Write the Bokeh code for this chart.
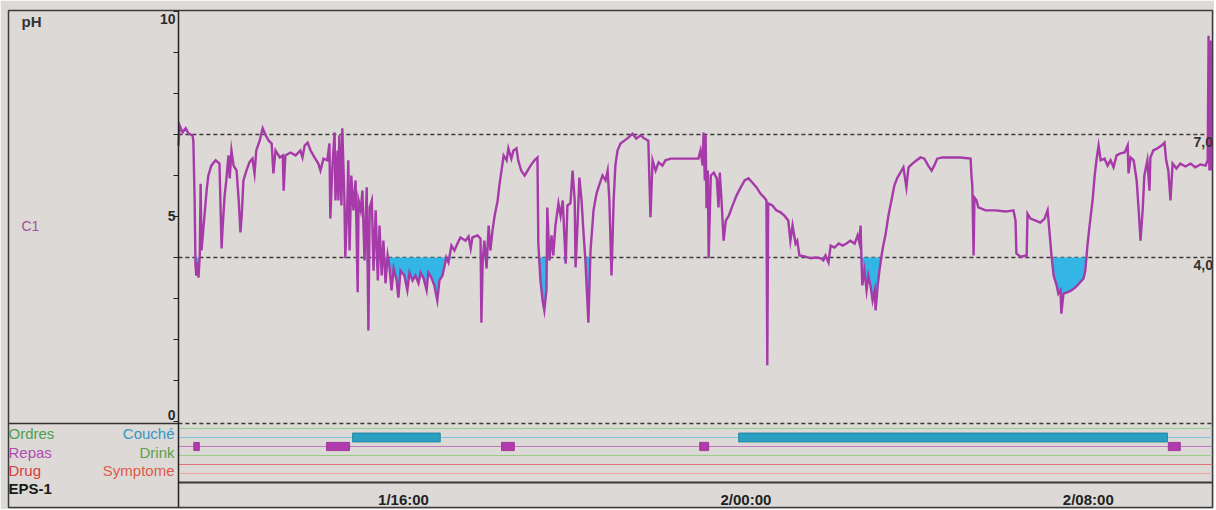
import numpy as np
from bokeh.plotting import figure
from bokeh.models import LinearAxis, FixedTicker, Range1d
from bokeh.core.properties import value
from bokeh.embed import file_html
from bokeh.resources import INLINE

# ---------------- data ----------------
# time in hours counted from midnight of day 1 (24 = 2/00:00)
time_h = [
    10.74, 10.77, 10.84, 10.91, 10.98, 11.07, 11.09, 11.12, 11.14, 11.16,
    11.19, 11.21, 11.24, 11.26, 11.28, 11.30, 11.35, 11.40, 11.44, 11.51,
    11.61, 11.70, 11.75, 11.77, 11.82, 11.86, 11.91, 11.94, 11.98, 12.03,
    12.10, 12.15, 12.19, 12.22, 12.26, 12.33, 12.40, 12.47, 12.52, 12.56,
    12.64, 12.71, 12.78, 12.85, 12.92, 12.96, 13.01, 13.11, 13.18, 13.20,
    13.24, 13.36, 13.48, 13.59, 13.64, 13.69, 13.76, 13.83, 13.92, 14.01,
    14.06, 14.13, 14.22, 14.27, 14.29, 14.34, 14.39, 14.41, 14.46, 14.48,
    14.50, 14.55, 14.57, 14.62, 14.64, 14.69, 14.71, 14.74, 14.78, 14.83,
    14.88, 14.93, 14.95, 15.00, 15.04, 15.09, 15.14, 15.18, 15.21, 15.26,
    15.30, 15.35, 15.40, 15.44, 15.49, 15.53, 15.58, 15.63, 15.67, 15.72,
    15.77, 15.84, 15.88, 15.93, 16.02, 16.09, 16.14, 16.21, 16.28, 16.35,
    16.40, 16.47, 16.54, 16.58, 16.65, 16.72, 16.79, 16.84, 16.91, 16.96,
    17.00, 17.05, 17.12, 17.19, 17.26, 17.33, 17.45, 17.52, 17.57, 17.61,
    17.73, 17.80, 17.82, 17.85, 17.89, 17.94, 17.99, 18.03, 18.08, 18.13,
    18.20, 18.24, 18.29, 18.34, 18.41, 18.45, 18.52, 18.57, 18.64, 18.68,
    18.75, 18.83, 18.90, 18.97, 19.06, 19.13, 19.15, 19.20, 19.25, 19.29,
    19.34, 19.36, 19.41, 19.46, 19.50, 19.55, 19.62, 19.67, 19.72, 19.79,
    19.83, 19.90, 19.95, 20.00, 20.02, 20.07, 20.11, 20.16, 20.21, 20.25,
    20.32, 20.37, 20.44, 20.51, 20.57, 20.65, 20.72, 20.77, 20.81, 20.86,
    20.91, 20.95, 21.00, 21.07, 21.16, 21.26, 21.35, 21.44, 21.54, 21.63,
    21.72, 21.77, 21.82, 21.89, 21.96, 22.05, 22.12, 22.24, 22.47, 22.71,
    22.89, 22.94, 22.99, 23.01, 23.04, 23.06, 23.08, 23.11, 23.13, 23.18,
    23.25, 23.32, 23.36, 23.39, 23.43, 23.48, 23.53, 23.60, 23.69, 23.78,
    23.88, 23.97, 24.06, 24.15, 24.25, 24.34, 24.43, 24.48, 24.50, 24.52,
    24.62, 24.71, 24.81, 24.90, 24.99, 25.04, 25.09, 25.16, 25.20, 25.25,
    25.39, 25.51, 25.63, 25.75, 25.81, 25.86, 25.93, 25.98, 26.07, 26.17,
    26.26, 26.35, 26.44, 26.54, 26.61, 26.65, 26.68, 26.70, 26.72, 26.77,
    26.82, 26.86, 26.91, 26.96, 27.01, 27.03, 27.08, 27.12, 27.17, 27.21,
    27.26, 27.33, 27.40, 27.47, 27.54, 27.61, 27.68, 27.75, 27.80, 27.89,
    27.99, 28.08, 28.17, 28.26, 28.34, 28.40, 28.47, 28.59, 28.78, 29.01,
    29.25, 29.27, 29.29, 29.32, 29.34, 29.39, 29.43, 29.60, 29.83, 30.07,
    30.25, 30.30, 30.32, 30.41, 30.56, 30.58, 30.65, 30.77, 30.88, 30.98,
    31.05, 31.09, 31.14, 31.19, 31.26, 31.30, 31.35, 31.37, 31.42, 31.51,
    31.61, 31.70, 31.79, 31.89, 31.93, 31.98, 32.03, 32.10, 32.15, 32.19,
    32.24, 32.29, 32.38, 32.45, 32.52, 32.59, 32.66, 32.75, 32.85, 32.92,
    32.94, 32.99, 33.06, 33.13, 33.17, 33.22, 33.27, 33.31, 33.38, 33.43,
    33.45, 33.52, 33.61, 33.71, 33.78, 33.82, 33.87, 33.92, 33.97, 34.06,
    34.15, 34.27, 34.39, 34.50, 34.62, 34.74, 34.79, 34.81, 34.83, 34.86, 34.88,
]
ph_values = [
    6.73, 7.22, 7.05, 7.15, 7.02, 6.98, 6.85, 5.39, 3.80, 3.56,
    3.88, 3.51, 4.05, 5.80, 4.17, 4.41, 5.02, 5.63, 6.00, 6.24,
    6.37, 6.29, 4.22, 4.66, 5.51, 5.88, 6.49, 5.93, 6.61, 6.24,
    6.12, 5.39, 4.61, 5.02, 5.88, 6.12, 6.32, 6.41, 6.05, 6.61,
    6.85, 7.15, 6.98, 6.85, 6.78, 6.05, 6.61, 6.44, 6.49, 5.63,
    6.49, 6.56, 6.49, 6.61, 6.44, 6.73, 6.80, 6.61, 6.44, 6.29,
    6.12, 6.41, 6.37, 6.78, 4.95, 6.24, 7.05, 5.39, 6.61, 5.39,
    6.98, 5.27, 7.15, 5.39, 3.98, 5.39, 6.37, 4.17, 6.00, 5.15,
    5.88, 3.15, 5.39, 5.15, 5.63, 3.93, 5.71, 2.22, 5.22, 5.39,
    3.68, 5.15, 3.44, 4.78, 3.56, 4.41, 3.37, 4.05, 3.80, 3.20,
    3.73, 3.44, 3.02, 3.68, 3.56, 3.20, 3.63, 3.44, 3.56, 3.37,
    3.63, 3.49, 3.20, 3.63, 3.51, 3.32, 2.95, 3.44, 3.56, 3.80,
    4.00, 3.88, 4.29, 4.17, 4.34, 4.49, 4.41, 4.51, 4.22, 4.49,
    4.54, 4.46, 2.41, 3.93, 4.41, 3.73, 4.78, 4.17, 4.66, 5.02,
    5.39, 5.76, 6.12, 6.49, 6.37, 6.66, 6.41, 6.61, 6.66, 6.37,
    6.12, 6.00, 6.12, 6.24, 6.37, 6.44, 4.34, 3.44, 2.95, 2.71,
    3.20, 5.22, 3.93, 4.54, 4.05, 4.78, 5.32, 5.02, 5.39, 3.85,
    5.27, 5.32, 6.12, 5.39, 3.76, 4.90, 5.95, 5.39, 4.54, 3.93,
    2.41, 4.17, 5.15, 5.56, 5.76, 6.00, 5.88, 6.12, 5.39, 3.56,
    5.39, 6.24, 6.61, 6.78, 6.85, 6.93, 7.02, 6.90, 6.98, 6.90,
    6.85, 4.98, 6.37, 6.12, 6.32, 6.24, 6.37, 6.41, 6.41, 6.41,
    6.41, 6.61, 6.24, 7.05, 5.88, 6.98, 5.20, 6.12, 3.98, 6.00,
    6.07, 5.93, 5.22, 6.07, 5.39, 4.41, 4.90, 5.02, 5.27, 5.51,
    5.71, 5.88, 5.93, 5.83, 5.71, 5.56, 5.46, 5.39, 1.37, 5.32,
    5.27, 5.15, 5.10, 5.02, 4.90, 4.41, 4.78, 4.34, 4.41, 4.05,
    4.02, 3.98, 4.00, 3.98, 3.93, 4.05, 3.88, 4.29, 4.24, 4.34,
    4.29, 4.34, 4.41, 4.34, 4.54, 4.37, 4.78, 3.98, 3.32, 3.68,
    3.20, 3.56, 3.32, 2.95, 3.20, 2.71, 3.32, 3.68, 4.05, 4.29,
    4.54, 5.02, 5.39, 5.76, 5.95, 6.07, 6.20, 5.71, 6.20, 6.29,
    6.37, 6.44, 6.41, 6.24, 6.12, 6.24, 6.41, 6.44, 6.44, 6.44,
    6.41, 6.00, 5.76, 4.05, 5.46, 5.39, 5.22, 5.15, 5.15, 5.12,
    5.15, 4.90, 4.10, 4.02, 4.05, 5.07, 4.95, 4.90, 4.85, 4.95,
    5.15, 4.66, 4.05, 3.56, 3.32, 3.12, 3.20, 2.63, 3.12, 3.15,
    3.20, 3.27, 3.37, 3.49, 3.68, 4.29, 4.78, 5.39, 6.00, 6.37,
    6.73, 6.37, 6.41, 6.24, 6.37, 6.20, 6.49, 6.54, 6.56, 6.73,
    6.05, 6.44, 6.37, 5.88, 5.27, 4.41, 5.15, 6.00, 6.37, 5.63,
    6.44, 6.61, 6.66, 6.73, 6.80, 6.37, 6.12, 5.39, 6.29, 6.17,
    6.29, 6.22, 6.29, 6.20, 6.27, 6.24, 6.37, 9.41, 6.12, 9.29, 6.12,
]

ph_tick_labels = [0, 5, 10]
ph_ticks = [0, 1, 2, 3, 4, 5, 6, 7, 8, 9, 10]
reference_levels = [7.0, 4.0]
reference_labels = ["7,0", "4,0"]
acid_threshold = 4.0
time_ticks = [16, 24, 32]
time_tick_labels = ["1/16:00", "2/00:00", "2/08:00"]

couche_start = [14.81, 23.83]
couche_end = [16.86, 33.85]
repas_start = [11.10, 14.20, 18.29, 22.92, 33.87]
repas_end = [11.23, 14.74, 18.59, 23.13, 34.15]

# ---------------- layout ----------------
BG = "#dcd9d6"
FONT = value("Liberation Sans")
X0, X1 = 6.771, 34.902
Y0, Y1 = -2.098, 10.024
PXH = 42.8
PXY = 41.0


def hx(px):  # page pixel -> hours (text placement in the label column)
    return X0 + (px - 8) / PXH


def vy(px):  # page pixel -> vertical units
    return Y1 - (px - 10) / PXY


t_start = time_h[0]
t_end = X1

p = figure(width=1214, height=509, x_range=Range1d(X0, X1), y_range=Range1d(Y0, Y1),
           output_backend="svg", toolbar_location=None,
           x_axis_type=None, y_axis_type=None,
           min_border_left=8, min_border_right=2, min_border_top=10, min_border_bottom=2,
           background_fill_color=BG, border_fill_color=BG,
           outline_line_color="#3c3c3c", outline_line_width=1.5)
p.grid.visible = False

# event lanes
lanes = [
    ("Ordres", vy(428), "#8fcf8f", 1.0),
    ("Couché", vy(437), "#7fc3df", 1.0),
    ("Repas", vy(446), "#c27ac2", 1.0),
    ("Drink", vy(455), "#98cc88", 1.0),
    ("Drug", vy(464), "#e07474", 1.0),
    ("Symptome", vy(473), "#f0a6a6", 1.0),
    ("EPS-1", vy(482), "#3a3a3a", 2.2),
]
lane_y = {n: y for n, y, c, w in lanes}
for n, y, c, w in lanes:
    p.segment(x0=t_start, y0=y, x1=t_end, y1=y, line_color=c, line_width=w)

p.quad(left=couche_start, right=couche_end,
       bottom=lane_y["Couché"] - 0.11, top=lane_y["Couché"] + 0.11,
       fill_color="#2a9fc0", line_color="#1d7e9c", line_width=0.8)
p.quad(left=repas_start, right=repas_end,
       bottom=lane_y["Repas"] - 0.10, top=lane_y["Repas"] + 0.10,
       fill_color="#b03aae", line_color="#93288f", line_width=0.8)

# separator between pH panel and event panel
sep_y = vy(423)
p.segment(x0=X0, y0=sep_y, x1=t_start, y1=sep_y, line_color="#333333", line_width=1.5)
p.segment(x0=t_start, y0=sep_y, x1=t_end, y1=sep_y, line_color="#3a3a3a",
          line_width=1.3, line_dash="4 3")

# reference dashed levels
for lvl in reference_levels:
    p.segment(x0=t_start, y0=lvl, x1=t_end, y1=lvl, line_color="#3a3a3a",
              line_width=1.3, line_dash="4 3")

# acid exposure fill and pH trace
ph = np.array(ph_values)
p.varea(x=time_h, y1=np.minimum(ph, acid_threshold), y2=acid_threshold,
        fill_color="#33b5e5")
p.line(time_h, ph_values, line_color="#a63aa8", line_width=2.4, line_join="miter")

for lvl, lab in zip(reference_levels, reference_labels):
    p.text(x=[hx(1193)], y=[lvl], text=[lab], text_align="left", text_baseline="top",
           y_offset=3, text_font=FONT, text_font_size="14px", text_font_style="bold",
           text_color="#333333")

# axes (pH axis: tick marks only, labels are placed below)
yax = LinearAxis(fixed_location=t_start,
                 ticker=FixedTicker(ticks=[], minor_ticks=ph_ticks),
                 axis_line_color="#222222", axis_line_width=1.5,
                 major_tick_line_color=None,
                 minor_tick_line_color="#222222", minor_tick_out=5, minor_tick_in=0)
p.add_layout(yax, "left")

xax = LinearAxis(fixed_location=lane_y["EPS-1"],
                 ticker=FixedTicker(ticks=time_ticks, minor_ticks=[]),
                 major_label_overrides={t: l for t, l in zip(time_ticks, time_tick_labels)},
                 axis_line_color=None, major_tick_line_color=None,
                 major_tick_out=0, major_tick_in=0, major_label_standoff=9,
                 major_label_text_font="Liberation Sans", major_label_text_font_size="15px",
                 major_label_text_font_style="bold", major_label_text_color="#222222")
p.add_layout(xax, "below")

# pH tick labels
for t, base in zip(ph_tick_labels, ["bottom", "middle", "top"]):
    p.text(x=[hx(175)], y=[t], text=[str(t)], text_align="right", text_baseline=base,
           y_offset={"top": 3, "middle": 0, "bottom": -1}[base],
           text_font=FONT, text_font_size="14px", text_font_style="bold",
           text_color="#2a2a2a")

# left column labels
p.text(x=[hx(21)], y=[vy(21)], text=["pH"], text_align="left", text_baseline="middle",
       text_font=FONT, text_font_size="15px", text_font_style="bold", text_color="#333333")
p.text(x=[hx(21)], y=[vy(226)], text=["C1"], text_align="left", text_baseline="middle",
       text_font=FONT, text_font_size="14px", text_color="#a0509c")

left_labels = [("Ordres", 433, "#4e9f4e", "normal"), ("Repas", 452, "#b04cb0", "normal"),
               ("Drug", 470, "#d83c3c", "normal"), ("EPS-1", 488, "#1a1a1a", "bold")]
right_labels = [("Couché", 433, "#3596c4"), ("Drink", 452, "#5aa048"),
                ("Symptome", 470, "#e05a4a")]
for lab, ypx, col, sty in left_labels:
    p.text(x=[hx(8)], y=[vy(ypx)], text=[lab], text_align="left", text_baseline="middle",
           text_font=FONT, text_font_size="15px", text_font_style=sty, text_color=col)
for lab, ypx, col in right_labels:
    p.text(x=[hx(174)], y=[vy(ypx)], text=[lab], text_align="right", text_baseline="middle",
           text_font=FONT, text_font_size="15px", text_color=col)

open("out.html", "w").write(file_html(p, INLINE))
